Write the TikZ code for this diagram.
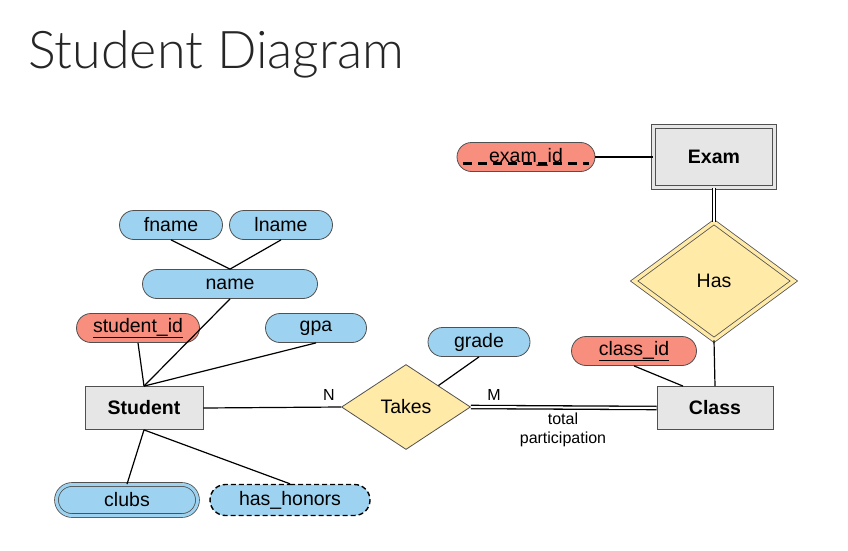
\documentclass[tikz,border=0pt]{standalone}
\usepackage{fontspec}
\setmainfont{Liberation Sans}
\newfontfamily\titlefont{Lato Light}
\usetikzlibrary{shapes.misc,shapes.geometric}
\definecolor{attrblue}{RGB}{157,211,240}
\definecolor{keyred}{RGB}{248,142,126}
\definecolor{relyellow}{RGB}{255,234,167}
\definecolor{entgray}{RGB}{230,230,230}
\definecolor{edgegray}{RGB}{80,80,80}
\tikzset{
  lbl/.style={font=\fontsize{19.5}{22}\selectfont},
  attr/.style={rounded rectangle, draw=edgegray, line width=0.8pt, fill=attrblue, minimum height=29pt, inner sep=0pt, lbl},
  keyattr/.style={attr, fill=keyred},
  entity/.style={rectangle, draw=edgegray, line width=0.8pt, fill=entgray, minimum height=43pt, minimum width=118pt, inner sep=0pt, font=\fontsize{19.5}{22}\selectfont\bfseries},
  rel/.style={diamond, draw=edgegray, line width=0.8pt, fill=relyellow, inner sep=0pt, lbl},
  conn/.style={line width=1.2pt, black},
  dconn/.style={draw=black, line width=1.3pt, double=white, double distance=2pt},
  small/.style={font=\fontsize{16}{19}\selectfont}
}
\begin{document}
\begin{tikzpicture}[x=1pt,y=-1pt]
\useasboundingbox (0,0) rectangle (848,551);
\node[anchor=base west, inner sep=0pt, font=\titlefont\fontsize{52}{60}\selectfont, text=black!85] (title) at (28,68) {Student Diagram};

% entities
\node[entity, minimum width=121pt, minimum height=61pt, draw=edgegray, double=entgray, double distance=3pt] (exam) at (714,157) {Exam};
\node[entity, minimum width=116pt] (class) at (715,408) {Class};
\node[entity] (student) at (144,408) {Student};

% relationships
\node[rel, minimum width=160pt, minimum height=118pt, double=relyellow, double distance=3.5pt] (has) at (714,281) {Has};
\node[rel, minimum width=129pt, minimum height=85pt] (takes) at (406,407) {Takes};

% attributes
\node[keyattr, minimum width=138pt] (examid) at (526,157) {exam\_id};
\node[keyattr, minimum width=125pt] (classid) at (634,351) {\underline{class\_id}};
\node[attr, minimum width=102pt] (grade) at (479,342) {grade};
\node[keyattr, minimum width=123pt] (studentid) at (138,328) {\underline{student\_id}};
\node[attr, minimum width=101pt] (gpa) at (316,328) {gpa};
\node[attr, minimum width=175pt] (name) at (230,284) {name};
\node[attr, minimum width=103pt] (fname) at (171,225) {fname};
\node[attr, minimum width=103pt] (lname) at (281,225) {lname};
\node[attr, minimum width=141pt, minimum height=31pt, double=attrblue, double distance=3pt] (clubs) at (127,500) {clubs};
\node[attr, minimum width=160pt, minimum height=31pt, draw=black, line width=1.4pt, dash pattern=on 5pt off 3pt] (honors) at (290,500) {has\_honors};

% dashed underline of partial key
\draw[line width=2.2pt, dash pattern=on 9pt off 6pt] ([xshift=-63pt,yshift=-6.5pt]examid.center) -- ([xshift=63pt,yshift=-6.5pt]examid.center);

% connectors
\draw[conn] (examid.east) -- (exam.west);
\draw[dconn] (exam.south) -- (has.north);
\draw[conn] (has.south) -- (class.north);
\draw[conn] (classid.south) -- ([xshift=-32pt]class.north);
\draw[conn] (grade.south) -- (takes.north east);
\draw[conn] (student.east) -- (takes.west);
\draw[dconn] (takes.east) -- (class.west);
\draw[conn] (studentid.south) -- (student.north);
\draw[conn] (gpa.south) -- (student.north);
\draw[conn] (name.south) -- (student.north);
\draw[conn] (fname.south) -- (name.north);
\draw[conn] (lname.south) -- (name.north);
\draw[conn] (clubs.north) -- (student.south);
\draw[conn] (honors.north) -- (student.south);

% labels
\node[small] (nlbl) at (329,395) {N};
\node[small] (mlbl) at (494,395) {M};
\node[small, align=center] (tp) at (563,430) {total\\participation};
\end{tikzpicture}
\end{document}
